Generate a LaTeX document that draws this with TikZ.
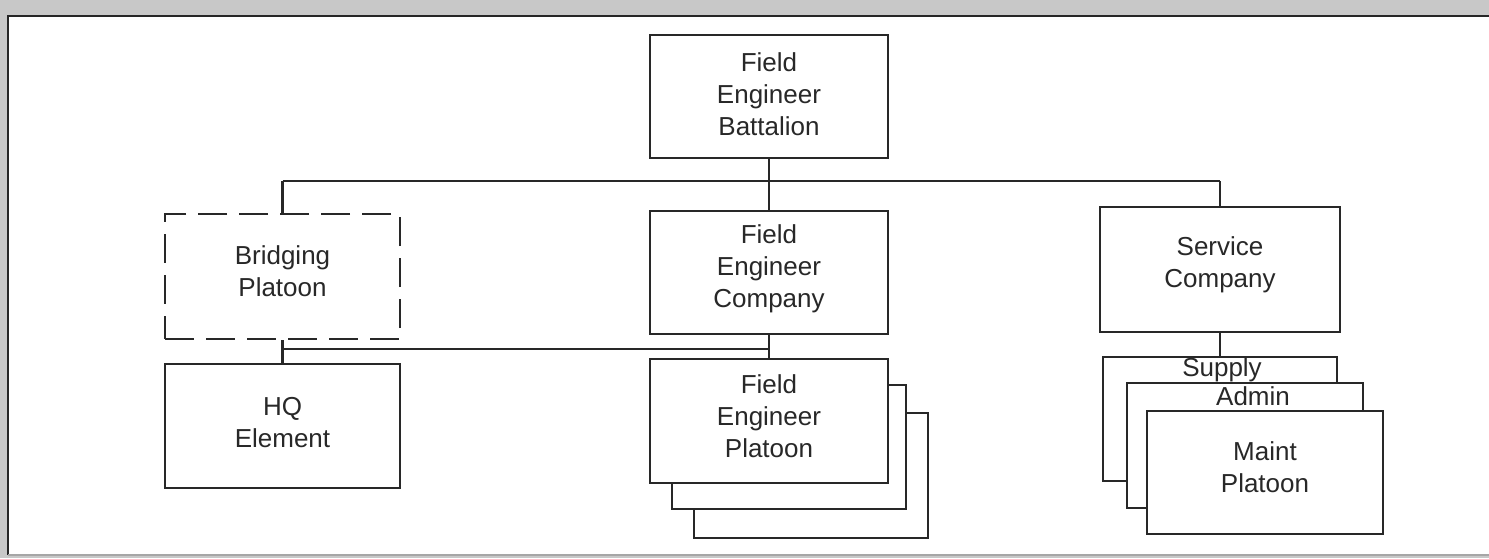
\documentclass[tikz,border=0pt]{standalone}
\usepackage{fontspec}
\setmainfont{Liberation Sans}
\usetikzlibrary{fit}
\definecolor{bggray}{RGB}{200,200,200}
\definecolor{inkc}{RGB}{40,40,40}
\tikzset{
  orgbox/.style={draw=inkc, fill=white, line width=1.1pt, inner sep=0pt},
  dashbox/.style={orgbox, dash pattern=on 14.5pt off 6pt},
  lbl/.style={font=\fontsize{13pt}{15.8pt}\selectfont, text=inkc, inner sep=0pt,
    align=center, anchor=base},
  wire/.style={draw=inkc, line width=1.1pt},
}
\begin{document}
\begin{tikzpicture}[x=0.5pt,y=-0.5pt]
\useasboundingbox (0,0) rectangle (1489,558);
% background panel
\fill[bggray] (0,0) rectangle (1489,558);
\fill[white] (8,16) rectangle (1489,555);
\draw[line width=1.2pt, black!85] (8,555) -- (8,16) -- (1489,16);
\draw[line width=1pt, black!35] (8,555) -- (1489,555);

% top (text anchors: baseline of the last line)
\node[orgbox, fit={(650,35)(888,158)}] (bat) {};
\node[lbl] (battxt) at (769,135) {Field\\Engineer\\Battalion};
% second level
\node[dashbox, fit={(165,214)(400,339)}] (brid) {};
\node[lbl] (bridtxt) at (282.5,296) {Bridging\\Platoon};
\node[orgbox, fit={(650,211)(888,334)}] (fec) {};
\node[lbl] (fectxt) at (769,307) {Field\\Engineer\\Company};
\node[orgbox, fit={(1100,207)(1340,332)}] (svc) {};
\node[lbl] (svctxt) at (1220,287) {Service\\Company};
% third level
\node[orgbox, fit={(165,364)(400,488)}] (hq) {};
\node[lbl] (hqtxt) at (282.5,447) {HQ\\Element};
\node[orgbox, fit={(694,413)(928,538)}] (fep3) {};
\node[orgbox, fit={(672,385)(906,509)}] (fep2) {};
\node[orgbox, fit={(650,359)(888,483)}] (fep) {};
\node[lbl] (feptxt) at (769,457) {Field\\Engineer\\Platoon};
\node[orgbox, fit={(1103,357)(1337,481)}] (sup) {};
\node[lbl] (suptxt) at (1222,376) {Supply};
\node[orgbox, fit={(1127,383)(1363,508)}] (adm) {};
\node[lbl] (admtxt) at (1253,405) {Admin};
\node[orgbox, fit={(1147,411)(1383,534)}] (mnt) {};
\node[lbl] (mnttxt) at (1265,492) {Maint\\Platoon};

% connectors
\coordinate (busL) at (282.5,181);
\coordinate (busR) at (1220,181);
\coordinate (jR) at (769,349);
\coordinate (jL) at (282.5,349);
\draw[wire] (bat.south) -- (fec.north);
\draw[wire] (busL) -- (busR);
\draw[wire] (busL) -- (brid.north);
\draw[wire] (busR) -- (svc.north);
\draw[wire] (fec.south) -- (fep.north);
\draw[wire] (jR) -- (jL);
\draw[wire] (brid.south) -- (hq.north);
\draw[wire] (svc.south) -- (sup.north);
\end{tikzpicture}
\end{document}
